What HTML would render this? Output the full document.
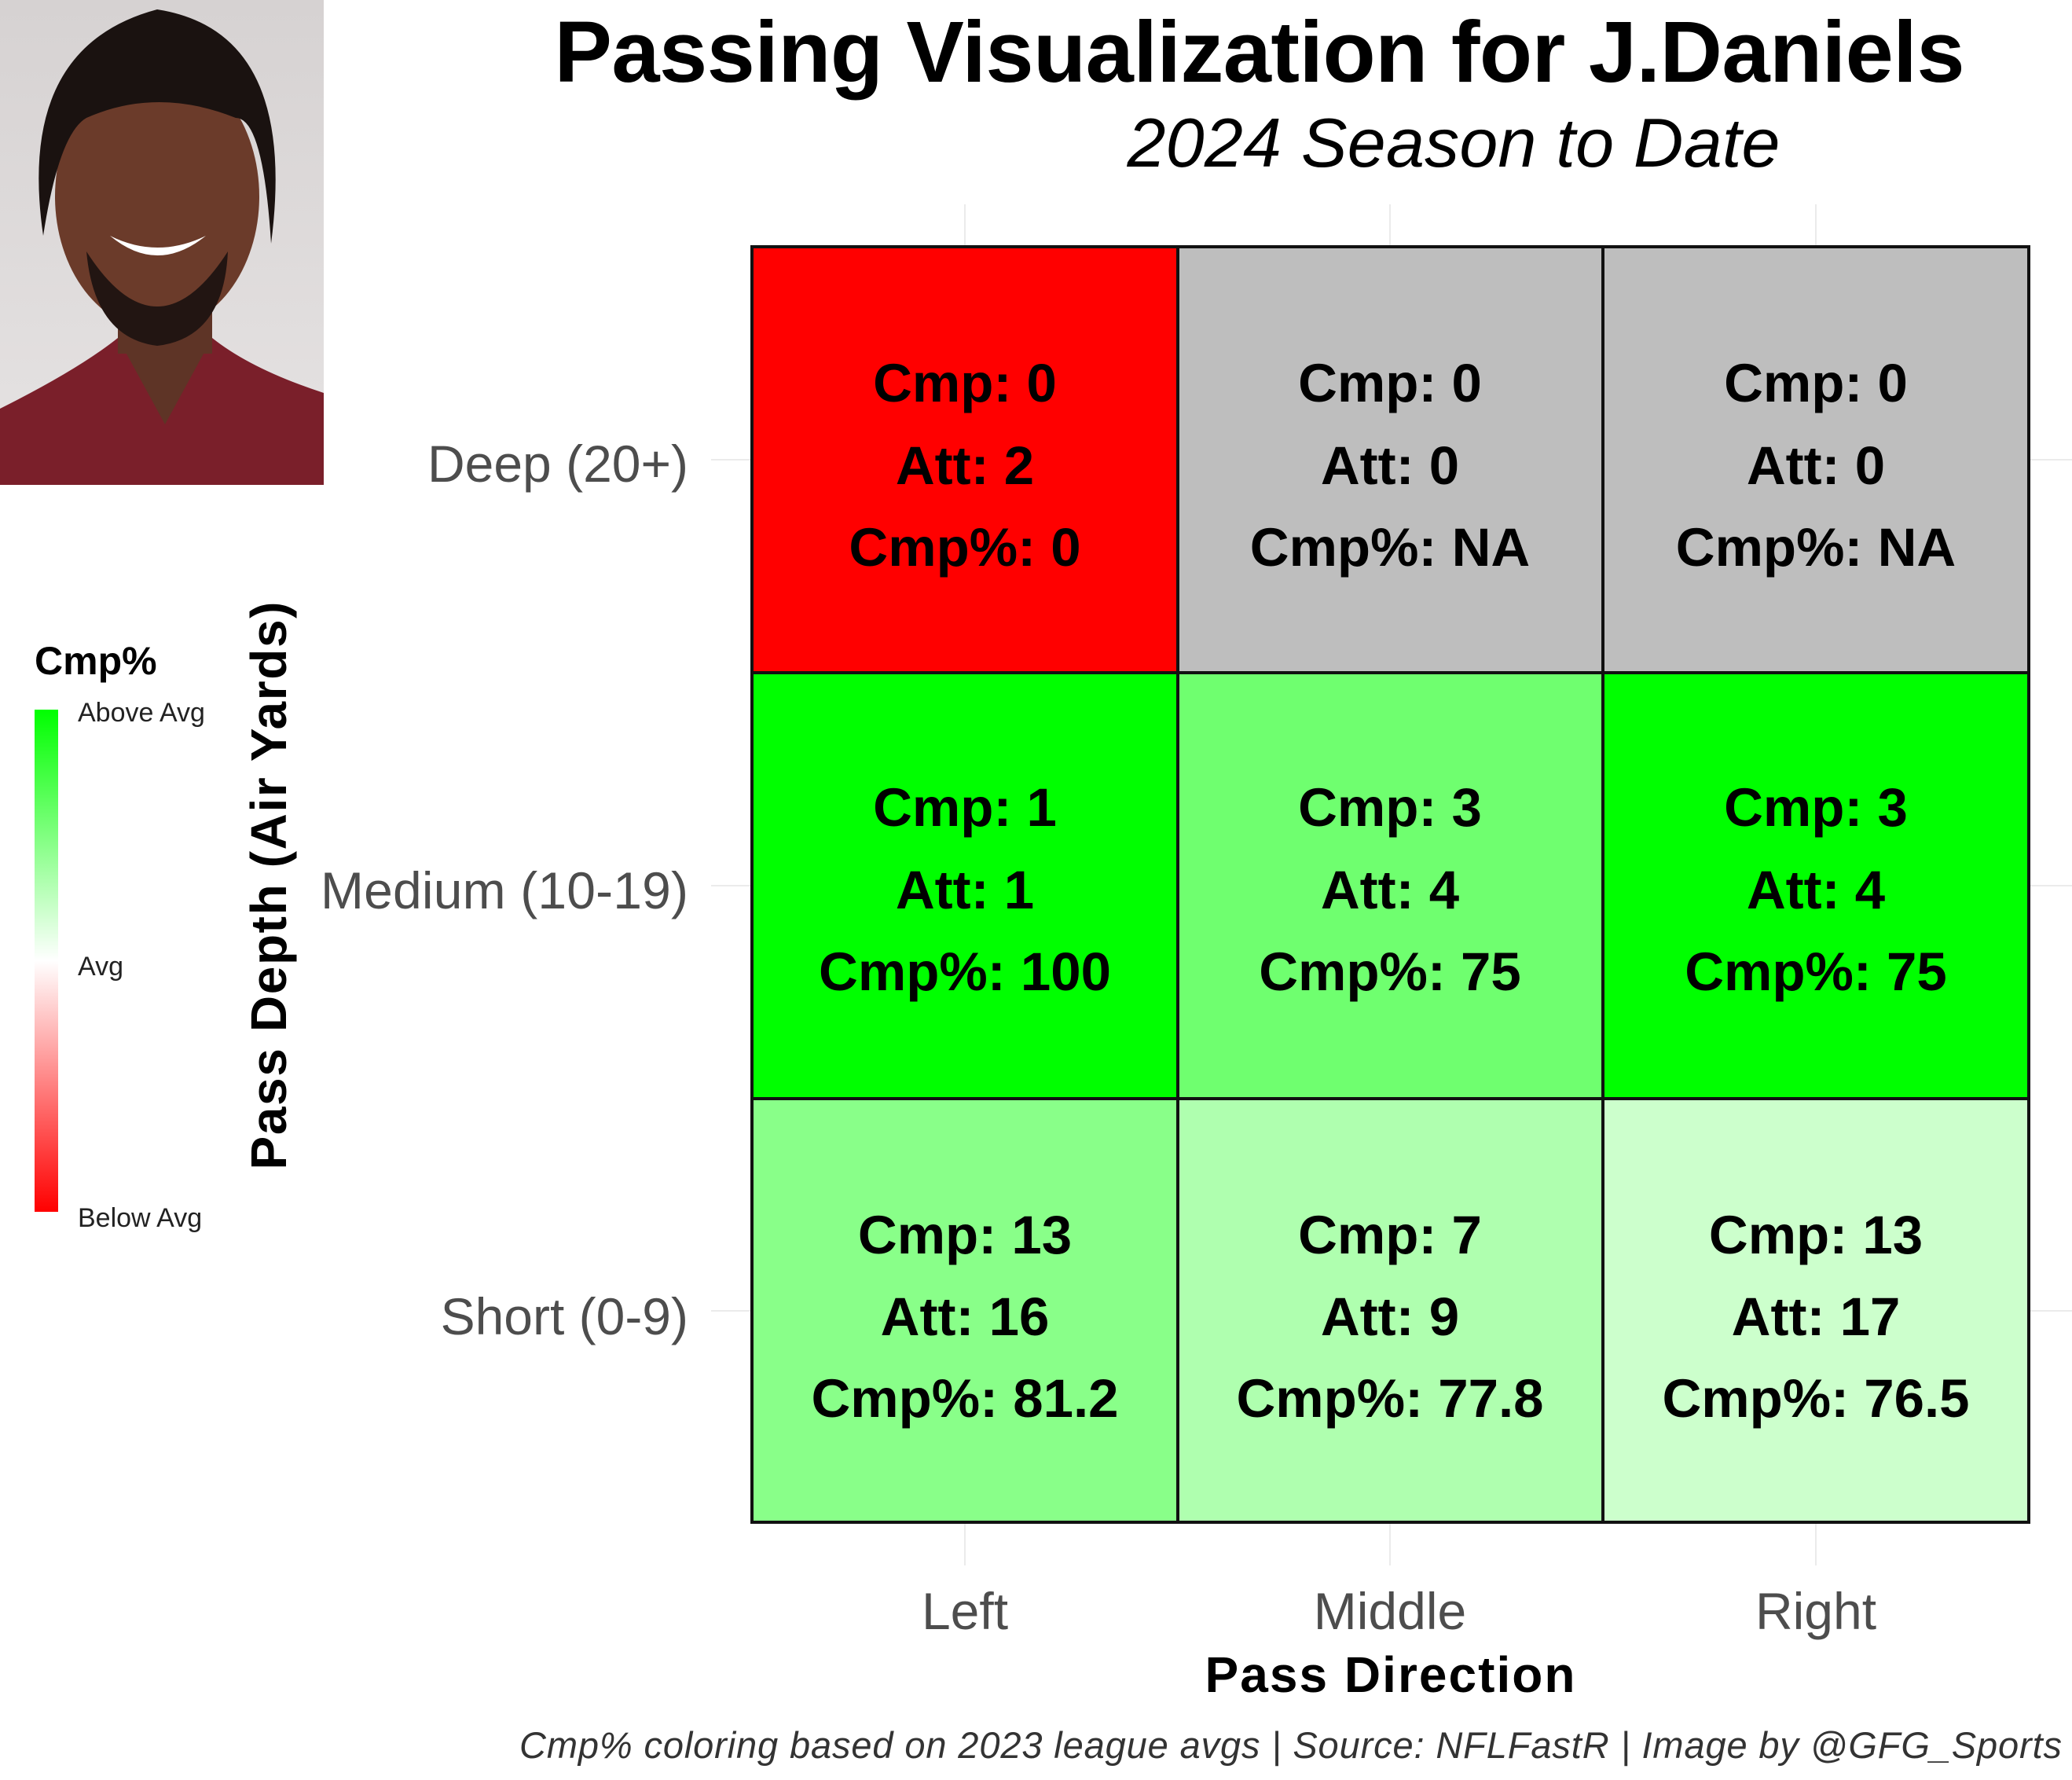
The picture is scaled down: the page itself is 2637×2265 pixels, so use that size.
<!DOCTYPE html>
<html><head><meta charset="utf-8"><style>html,body{margin:0;padding:0;background:#fff}svg{display:block}</style></head>
<body>
<svg width="2637" height="2265" viewBox="0 0 2637 2265" xmlns="http://www.w3.org/2000/svg" font-family="Liberation Sans, Arial, sans-serif">
<defs>
<linearGradient id="lg" x1="0" y1="0" x2="0" y2="1">
<stop offset="0" stop-color="#00ff00"/><stop offset="0.5" stop-color="#ffffff"/><stop offset="1" stop-color="#ff0000"/>
</linearGradient>
<linearGradient id="bg" x1="0" y1="0" x2="0" y2="1"><stop offset="0" stop-color="#d6d2d2"/><stop offset="1" stop-color="#e6e3e3"/></linearGradient>
</defs>
<rect width="2637" height="2265" fill="#fff"/>
<!-- photo placeholder -->
<rect x="0" y="0" width="412" height="617" fill="url(#bg)"/>
<path d="M0 520 Q100 470 150 430 L270 430 Q320 470 412 500 L412 617 L0 617 Z" fill="#7a1f2a"/>
<path d="M150 430 L210 540 L270 430 Z" fill="#5e3426"/>
<rect x="150" y="330" width="120" height="120" fill="#5e3426"/>
<ellipse cx="200" cy="250" rx="130" ry="170" fill="#6b3b2a"/>
<path d="M55 300 Q20 60 200 12 Q380 40 345 310 Q335 150 300 150 Q200 110 110 150 Q75 170 55 300 Z" fill="#1a1210"/>
<path d="M110 320 Q200 460 290 320 Q285 430 200 440 Q120 430 110 320 Z" fill="#221512"/>
<path d="M140 300 Q200 350 262 300 Q200 330 140 300 Z" fill="#fff"/>
<!-- faint gridlines -->
<g stroke="#ebebeb" stroke-width="2">
<line x1="1228" y1="260" x2="1228" y2="314"/><line x1="1769" y1="260" x2="1769" y2="314"/><line x1="2311" y1="260" x2="2311" y2="314"/>
<line x1="1228" y1="1937" x2="1228" y2="1992"/><line x1="1769" y1="1937" x2="1769" y2="1992"/><line x1="2311" y1="1937" x2="2311" y2="1992"/>
<line x1="2582" y1="585" x2="2637" y2="585"/><line x1="2582" y1="1127" x2="2637" y2="1127"/><line x1="2582" y1="1668" x2="2637" y2="1668"/>
<line x1="905" y1="585" x2="957" y2="585"/><line x1="905" y1="1127" x2="957" y2="1127"/><line x1="905" y1="1668" x2="957" y2="1668"/>
</g>
<!-- cells -->
<g stroke="#111" stroke-width="4">
<rect x="957" y="314" width="542" height="542" fill="#ff0000"/>
<rect x="1499" y="314" width="541" height="542" fill="#bebebe"/>
<rect x="2040" y="314" width="542" height="542" fill="#bebebe"/>
<rect x="957" y="856" width="542" height="542" fill="#00ff00"/>
<rect x="1499" y="856" width="541" height="542" fill="#6fff6f"/>
<rect x="2040" y="856" width="542" height="542" fill="#00ff00"/>
<rect x="957" y="1398" width="542" height="539" fill="#89ff89"/>
<rect x="1499" y="1398" width="541" height="539" fill="#afffaf"/>
<rect x="2040" y="1398" width="542" height="539" fill="#ccffcc"/>
</g>
<g font-size="69" font-weight="bold" text-anchor="middle" fill="#000">
<text x="1228" y="511">Cmp: 0</text><text x="1228" y="616">Att: 2</text><text x="1228" y="720">Cmp%: 0</text>
<text x="1769" y="511">Cmp: 0</text><text x="1769" y="616">Att: 0</text><text x="1769" y="720">Cmp%: NA</text>
<text x="2311" y="511">Cmp: 0</text><text x="2311" y="616">Att: 0</text><text x="2311" y="720">Cmp%: NA</text>
<text x="1228" y="1051">Cmp: 1</text><text x="1228" y="1156">Att: 1</text><text x="1228" y="1260">Cmp%: 100</text>
<text x="1769" y="1051">Cmp: 3</text><text x="1769" y="1156">Att: 4</text><text x="1769" y="1260">Cmp%: 75</text>
<text x="2311" y="1051">Cmp: 3</text><text x="2311" y="1156">Att: 4</text><text x="2311" y="1260">Cmp%: 75</text>
<text x="1228" y="1595">Cmp: 13</text><text x="1228" y="1699">Att: 16</text><text x="1228" y="1803">Cmp%: 81.2</text>
<text x="1769" y="1595">Cmp: 7</text><text x="1769" y="1699">Att: 9</text><text x="1769" y="1803">Cmp%: 77.8</text>
<text x="2311" y="1595">Cmp: 13</text><text x="2311" y="1699">Att: 17</text><text x="2311" y="1803">Cmp%: 76.5</text>
</g>
<!-- axes text -->
<g font-size="66" fill="#4d4d4d">
<text x="876" y="613" text-anchor="end">Deep (20+)</text>
<text x="876" y="1156" text-anchor="end" textLength="468">Medium (10-19)</text>
<text x="876" y="1698" text-anchor="end">Short (0-9)</text>
<text x="1228" y="2073" text-anchor="middle">Left</text>
<text x="1769" y="2073" text-anchor="middle">Middle</text>
<text x="2311" y="2073" text-anchor="middle">Right</text>
</g>
<text x="1769" y="2153" text-anchor="middle" font-size="64" font-weight="bold" textLength="471">Pass Direction</text>
<text transform="translate(364,1127) rotate(-90)" text-anchor="middle" font-size="64" font-weight="bold" textLength="723">Pass Depth (Air Yards)</text>
<!-- title -->
<text x="1603" y="104" text-anchor="middle" font-size="110" font-weight="bold" textLength="1795" fill="#000">Passing Visualization for J.Daniels</text>
<text x="1850" y="212" text-anchor="middle" font-size="88" font-style="italic" textLength="831" fill="#000">2024 Season to Date</text>
<!-- legend -->
<text x="44" y="858" font-size="50" font-weight="bold">Cmp%</text>
<rect x="44" y="903" width="30" height="639" fill="url(#lg)"/>
<g font-size="34" fill="#222">
<text x="99" y="918">Above Avg</text>
<text x="99" y="1241">Avg</text>
<text x="99" y="1561">Below Avg</text>
</g>
<text x="2624" y="2237" text-anchor="end" font-size="47" font-style="italic" fill="#333" textLength="1963">Cmp% coloring based on 2023 league avgs | Source: NFLFastR | Image by @GFG_Sports</text>
</svg>
</body></html>
